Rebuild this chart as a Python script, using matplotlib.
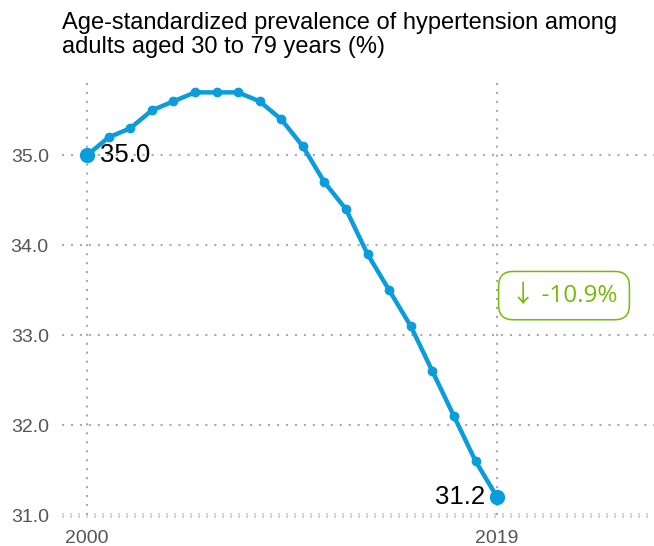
import matplotlib
matplotlib.use("Agg")
import matplotlib.pyplot as plt

plt.rcParams['font.family'] = ['Liberation Sans', 'DejaVu Sans']

years = list(range(2000, 2020))
prevalence = [35.0, 35.2, 35.3, 35.5, 35.6, 35.7, 35.7, 35.7, 35.6, 35.4,
              35.1, 34.7, 34.4, 33.9, 33.5, 33.1, 32.6, 32.1, 31.6, 31.2]
yticks = [31.0, 32.0, 33.0, 34.0, 35.0]
xticks = [2000, 2019]
change_label = "\u2193 -10.9%"
title_lines = ["Age-standardized prevalence of hypertension among",
               "adults aged 30 to 79 years (%)"]

blue = "#0a9cdb"
green = "#78b90a"
grid = "#aaaaaa"

W, H = 654, 546
fig = plt.figure(figsize=(W / 100, H / 100), dpi=100)
ax = fig.add_axes([62 / W, 31 / H, 1 - 62 / W, (515 - 78) / H])

ax.set_xlim(1998.84, 2026.27)
ax.set_ylim(31.0, 35.86)

for y in yticks[1:]:
    ax.axhline(y, color=grid, lw=1.5, ls=(0, (1, 3.3)), zorder=1)
# bottom baseline drawn as short ticks
ax.axhline(yticks[0], color="#b5b5b5", lw=3.6, ls=(0, (0.22, 1.38)), zorder=1,
           clip_on=False)
for x in xticks:
    ax.axvline(x, color=grid, lw=1.5, ls=(0, (1, 3.3)), zorder=1)

ax.plot(years, prevalence, color=blue, lw=3.2, marker="o", ms=6, zorder=3,
        solid_capstyle="round")
ax.plot([years[0], years[-1]], [prevalence[0], prevalence[-1]], "o",
        color=blue, ms=10, zorder=4)

ax.text(years[0] + 0.6, prevalence[0], f"{prevalence[0]:.1f}", fontsize=18.5,
        va="center", ha="left", color="black", zorder=5)
ax.text(years[-1] - 0.56, prevalence[-1], f"{prevalence[-1]:.1f}", fontsize=18.5,
        va="center", ha="right", color="black", zorder=5)

ax.text(2022.1, 33.44, change_label, fontsize=17.5, color=green, ha="center", va="center",
        family=['Open Sans', 'Noto Sans CJK SC', 'DejaVu Sans'],
        bbox=dict(boxstyle="round,pad=0.5,rounding_size=0.6", fc="white", ec=green, lw=1.1),
        zorder=5)

ax.set_yticks(yticks)
ax.set_yticklabels([f"{v:.1f}" for v in yticks])
ax.set_xticks(xticks)
ax.set_xticklabels([str(x) for x in xticks])
ax.tick_params(axis="both", length=0, labelsize=14, labelcolor="#555555")
ax.tick_params(axis="y", pad=9.5)
ax.tick_params(axis="x", pad=10.5)
for s in ax.spines.values():
    s.set_visible(False)

fig.text(62 / W, 1 - 29 / H, title_lines[0], fontsize=17, va="baseline", ha="left",
         color="black")
fig.text(62 / W, 1 - 53 / H, title_lines[1], fontsize=17, va="baseline", ha="left",
         color="black")

fig.savefig("out.png", dpi=100)
